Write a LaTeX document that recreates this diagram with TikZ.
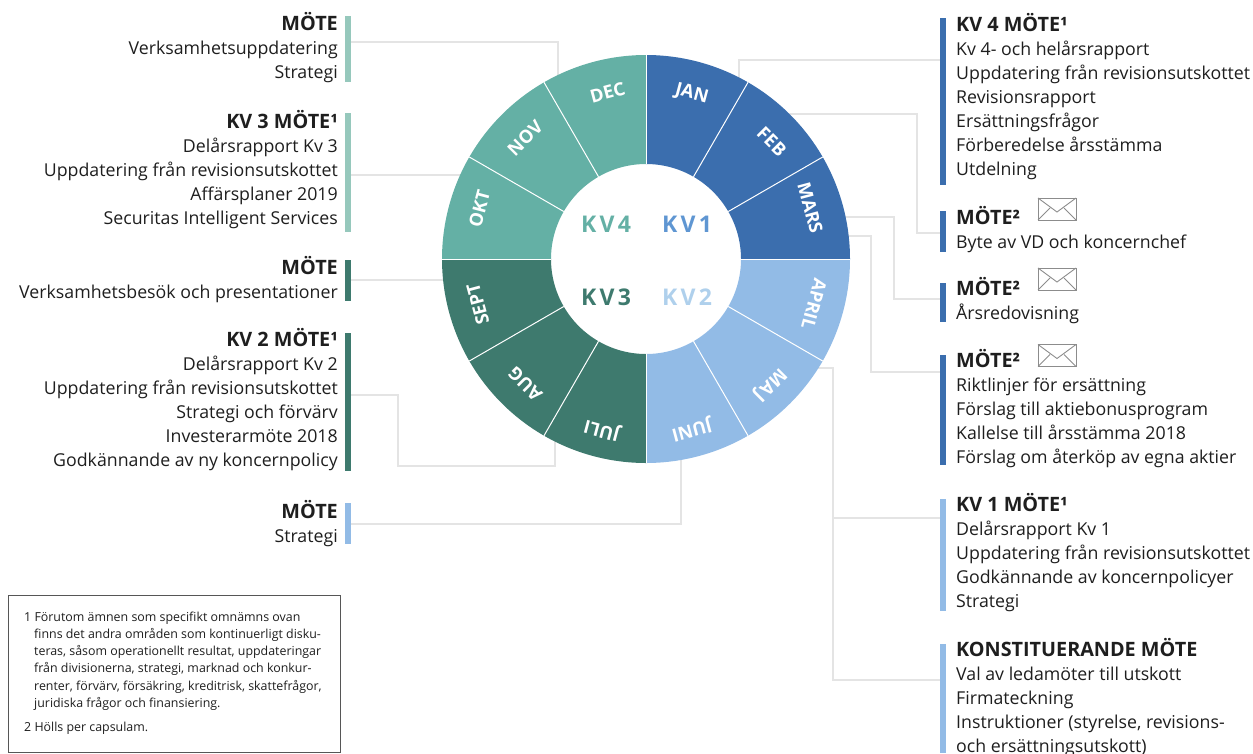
\documentclass[tikz,border=0pt]{standalone}
\usepackage{fontspec}
\setmainfont{Open Sans}
\usetikzlibrary{calc}
\definecolor{kvone}{HTML}{3B6EAE}
\definecolor{kvtwo}{HTML}{92BBE6}
\definecolor{kvthree}{HTML}{3E7A6E}
\definecolor{kvfour}{HTML}{64B0A5}
\definecolor{barfour}{HTML}{96C8BC}
\definecolor{kvoneText}{HTML}{5F96D2}
\definecolor{kvtwoText}{HTML}{AFD0EC}
\definecolor{conn}{HTML}{E4E4E4}
\definecolor{ink}{HTML}{1E1E1E}
\tikzset{
  connector/.style={draw=conn,line width=2.9pt},
  barnode/.style={inner sep=0pt,outer sep=0pt,minimum width=6pt,anchor=north west},
  leftblock/.style={inner sep=0pt,anchor=north east,align=right,text=ink,yshift=0.6pt,font=\fontsize{17.75}{24}\selectfont},
  rightblock/.style={inner sep=0pt,anchor=north west,align=left,text=ink,yshift=0.6pt,font=\fontsize{17.75}{24}\selectfont},
  month/.style={text=white,inner sep=0pt,font=\fontsize{18.2}{20}\selectfont\bfseries},
  kvlabel/.style={inner sep=0pt,font=\fontsize{23}{26}\selectfont\bfseries\addfontfeature{LetterSpace=14}},
  envelope/.style={draw=gray!90,line width=0.9pt},
}
\newcommand{\hd}[1]{\strut{\fontsize{19.8}{24}\selectfont\textbf{#1}}}
\newcommand{\envel}[3]{% name, x, y
  \node[envelope,inner sep=0pt,outer sep=0pt,minimum width=38pt,minimum height=22pt,anchor=north west] (#1) at (#2,#3) {};
  \draw[envelope] (#1.north west) -- ($(#1.north)+(0pt,-14pt)$) -- (#1.north east);
  \draw[envelope] (#1.south west) -- ($(#1.north west)+(12pt,-10pt)$);
  \draw[envelope] (#1.south east) -- ($(#1.north east)+(-12pt,-10pt)$);
}
\begin{document}
\begin{tikzpicture}[x=1pt,y=-1pt]
\useasboundingbox (0,0) rectangle (1253,753);
% connector coordinates
\coordinate (c1a) at (351,42); \coordinate (c1b) at (558,42); \coordinate (c1c) at (558,90);
\coordinate (c2a) at (351,175); \coordinate (c2b) at (480,175);
\coordinate (c3a) at (351,280); \coordinate (c3b) at (460,280);
\coordinate (c4a) at (351,395); \coordinate (c4b) at (398,395); \coordinate (c4c) at (398,466); \coordinate (c4d) at (555,466); \coordinate (c4e) at (555,430);
\coordinate (c5a) at (351,524); \coordinate (c5b) at (681,524); \coordinate (c5c) at (681,440);
\coordinate (r1a) at (940,60); \coordinate (r1b) at (739,60); \coordinate (r1c) at (739,100);
\coordinate (r2a) at (770,114); \coordinate (r2b) at (917,114); \coordinate (r2c) at (917,233); \coordinate (r2d) at (940,233);
\coordinate (r3a) at (830,217); \coordinate (r3b) at (894,217); \coordinate (r3c) at (894,299); \coordinate (r3d) at (940,299);
\coordinate (r4a) at (830,236); \coordinate (r4b) at (871,236); \coordinate (r4c) at (871,372); \coordinate (r4d) at (940,372);
\coordinate (r5a) at (800,368); \coordinate (r5b) at (833,368); \coordinate (r5c) at (833,680); \coordinate (r5d) at (940,680);
\coordinate (r6a) at (833,518); \coordinate (r6b) at (940,518);
\draw[connector] (c1a) -- (c1b) -- (c1c);
\draw[connector] (c2a) -- (c2b);
\draw[connector] (c3a) -- (c3b);
\draw[connector] (c4a) -- (c4b) -- (c4c) -- (c4d) -- (c4e);
\draw[connector] (c5a) -- (c5b) -- (c5c);
\draw[connector] (r1a) -- (r1b) -- (r1c);
\draw[connector] (r2a) -- (r2b) -- (r2c) -- (r2d);
\draw[connector] (r3a) -- (r3b) -- (r3c) -- (r3d);
\draw[connector] (r4a) -- (r4b) -- (r4c) -- (r4d);
\draw[connector] (r5a) -- (r5b) -- (r5c) -- (r5d);
\draw[connector] (r6a) -- (r6b);
% wheel
\begin{scope}[shift={(646,259)}]
\foreach \a/\c in {90/kvone,60/kvone,30/kvone,0/kvtwo,-30/kvtwo,-60/kvtwo,-90/kvthree,-120/kvthree,-150/kvthree,180/kvfour,150/kvfour,120/kvfour}{
  \fill[\c] (\a:95pt) arc[start angle=\a,delta angle=-30,radius=95pt] -- (\a-30:204pt) arc[start angle=\a-30,delta angle=30,radius=204pt] -- cycle;
}
\foreach \a in {0,30,...,330}{
  \draw[white,line width=1pt] (\a:95pt) -- (\a:204pt);
}
\node[month,rotate=-15] (jan) at (74.5:171pt) {JAN};
\node[month,rotate=-45] (feb) at (43:172pt) {FEB};
\node[month,rotate=-75] (mars) at (17.3:172pt) {MARS};
\node[month,rotate=-105] (april) at (-15:174pt) {APRIL};
\node[month,rotate=-135] (maj) at (-45.5:176pt) {MAJ};
\node[month,rotate=-165] (juni) at (-75:176pt) {JUNI};
\node[month,rotate=165] (juli) at (-104.5:176pt) {JULI};
\node[month,rotate=135] (aug) at (-134:174pt) {AUG};
\node[month,rotate=105] (sept) at (-165:174pt) {SEPT};
\node[month,rotate=75] (okt) at (163.3:174pt) {OKT};
\node[month,rotate=45] (nov) at (135:171pt) {NOV};
\node[month,rotate=15] (dec) at (103:171pt) {DEC};
\end{scope}
\node[kvlabel,text=kvfour] (kv4) at (606,224) {KV4};
\node[kvlabel,text=kvoneText] (kv1) at (687,224) {KV1};
\node[kvlabel,text=kvthree] (kv3) at (606,297) {KV3};
\node[kvlabel,text=kvtwoText] (kv2) at (687,297) {KV2};
% bars
\node[barnode,fill=barfour,minimum height=66pt] (bl1) at (345,16) {};
\node[barnode,fill=barfour,minimum height=119pt] (bl2) at (345,113) {};
\node[barnode,fill=kvthree,minimum height=41pt] (bl3) at (345,260) {};
\node[barnode,fill=kvthree,minimum height=138pt] (bl4) at (345,333) {};
\node[barnode,fill=kvtwo,minimum height=41pt] (bl5) at (345,503) {};
\node[barnode,fill=kvone,minimum height=167pt] (br1) at (939.5,18) {};
\node[barnode,fill=kvone,minimum height=41pt] (br2) at (939.5,211) {};
\node[barnode,fill=kvone,minimum height=39pt] (br3) at (939.5,283) {};
\node[barnode,fill=kvone,minimum height=110pt] (br4) at (939.5,355) {};
\node[barnode,fill=kvtwo,minimum height=112pt] (br5) at (939.5,499) {};
\node[barnode,fill=kvtwo,minimum height=109pt] (br6) at (939.5,644) {};
% left text
\node[leftblock] (tl1) at (338,13.2) {\hd{MÖTE}\\Verksamhetsuppdatering\\Strategi};
\node[leftblock] (tl2) at (338,111.2) {\hd{KV 3 MÖTE¹}\\Delårsrapport Kv 3\\Uppdatering från revisionsutskottet\\Affärsplaner 2019\\Securitas Intelligent Services};
\node[leftblock] (tl3) at (338,257.2) {\hd{MÖTE}\\Verksamhetsbesök och presentationer};
\node[leftblock] (tl4) at (338,329.2) {\hd{KV 2 MÖTE¹}\\Delårsrapport Kv 2\\Uppdatering från revisionsutskottet\\Strategi och förvärv\\Investerarmöte 2018\\Godkännande av ny koncernpolicy};
\node[leftblock] (tl5) at (338,501.2) {\hd{MÖTE}\\Strategi};
% right text
\node[rightblock] (tr1) at (956,14.2) {\hd{KV 4 MÖTE¹}\\Kv 4- och helårsrapport\\Uppdatering från revisionsutskottet\\Revisionsrapport\\Ersättningsfrågor\\Förberedelse årsstämma\\Utdelning};
\node[rightblock] (tr2) at (956,207.2) {\hd{MÖTE²}\\Byte av VD och koncernchef};
\node[rightblock] (tr3) at (956,278.2) {\hd{MÖTE²}\\Årsredovisning};
\node[rightblock] (tr4) at (956,350.2) {\hd{MÖTE²}\\Riktlinjer för ersättning\\Förslag till aktiebonusprogram\\Kallelse till årsstämma 2018\\Förslag om återköp av egna aktier};
\node[rightblock] (tr5) at (956,494.2) {\hd{KV 1 MÖTE¹}\\Delårsrapport Kv 1\\Uppdatering från revisionsutskottet\\Godkännande av koncernpolicyer\\Strategi};
\node[rightblock] (tr6) at (956,639.2) {\hd{KONSTITUERANDE MÖTE}\\Val av ledamöter till utskott\\Firmateckning\\Instruktioner (styrelse, revisions-\\och ersättningsutskott)};
% envelopes
\envel{env1}{1038}{198}
\envel{env2}{1038}{268}
\envel{env3}{1038}{344.5}
% footnote box
\node[draw=ink!75,line width=0.9pt,inner sep=0pt,outer sep=0pt,minimum width=332pt,minimum height=157pt,anchor=north west] (notebox) at (8,595) {};
\node[inner sep=0pt,anchor=north west,align=left,text=ink,font=\fontsize{12.4}{17.2}\selectfont] (note1) at (24,609) {\strut 1 Förutom ämnen som specifikt omnämns ovan\\
\hspace*{10pt}finns det andra områden som kontinuerligt disku-\\
\hspace*{10pt}teras, såsom operationellt resultat, uppdateringar\\
\hspace*{10pt}från divisionerna, strategi, marknad och konkur-\\
\hspace*{10pt}renter, förvärv, försäkring, kreditrisk, skattefrågor,\\
\hspace*{10pt}juridiska frågor och finansiering.};
\node[inner sep=0pt,anchor=north west,text=ink,font=\fontsize{12.4}{17.2}\selectfont] (note2) at (24,719) {\strut 2 Hölls per capsulam.};
\end{tikzpicture}
\end{document}
